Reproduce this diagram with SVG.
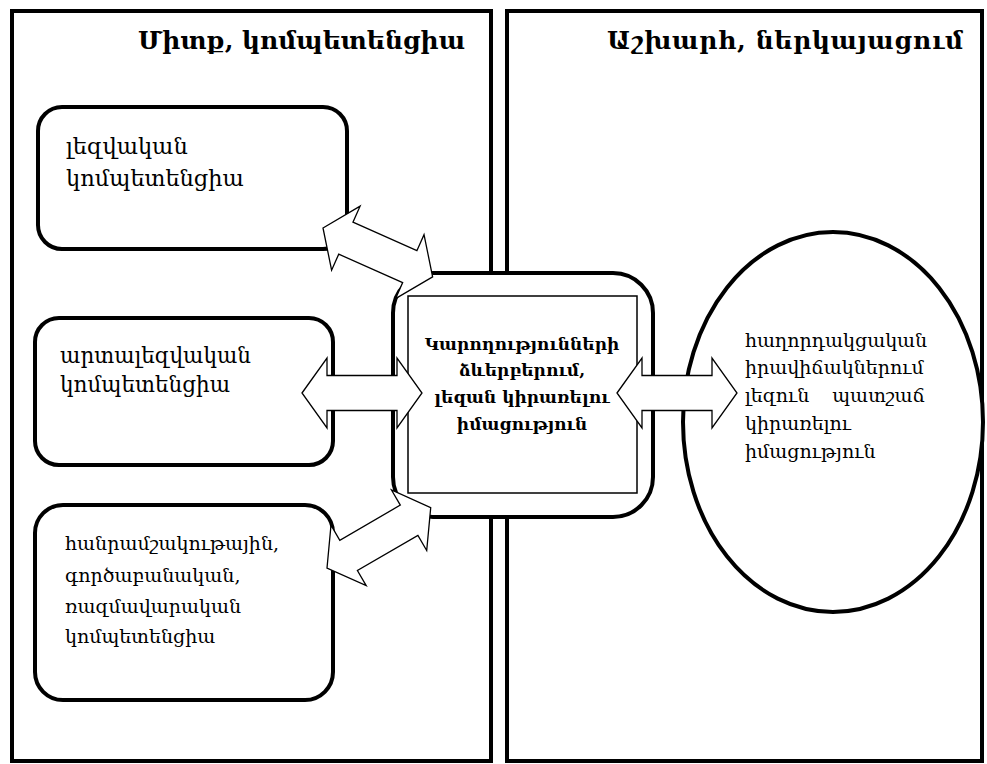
<svg xmlns="http://www.w3.org/2000/svg" xmlns:xlink="http://www.w3.org/1999/xlink" width="987" height="764" viewBox="0 0 987 764">
<style>
.panel{fill:#fff;stroke:#000;stroke-width:4}
.box{fill:#fff;stroke:#000;stroke-width:4}
.inner{fill:#fff;stroke:#000;stroke-width:1.5}
.arrow{fill:#fff;stroke:#000;stroke-width:1.3;stroke-linejoin:miter}
.title{font-family:"DejaVu Serif","DejaVu Sans",serif;font-size:25px;font-weight:bold;fill:#000}
.t{font-family:"DejaVu Serif","DejaVu Sans",serif;font-size:19px;fill:#000}
.t1{font-size:22.5px}
.t2{font-size:21.5px}
.tb{font-family:"DejaVu Serif","DejaVu Sans",serif;font-size:17px;font-weight:bold;fill:#000;text-anchor:middle}
</style>
<defs>
<path id="dblarrow" d="M0,0 L25,-35 L25,-17.5 L95,-17.5 L95,-35 L120,0 L95,35 L95,17.5 L25,17.5 L25,35 Z"/>
</defs>
<rect width="987" height="764" fill="#fff"/>
<g id="panel-left">
<rect class="panel" x="12" y="11" width="479" height="750"/>
<text class="title" x="138" y="49" textLength="327">Միտք, կոմպետենցիա</text>
</g>
<g id="panel-right">
<rect class="panel" x="507" y="11" width="475" height="750"/>
<text class="title" x="607" y="49" textLength="356">Աշխարհ, ներկայացում</text>
</g>
<g id="box-linguistic">
<rect class="box" x="38" y="107" width="309" height="142" rx="24"/>
<text class="t t1" x="66" y="154">լեզվական</text>
<text class="t t1" x="66" y="186">կոմպետենցիա</text>
</g>
<g id="box-extralinguistic">
<rect class="box" x="35" y="318" width="298" height="147" rx="24"/>
<text class="t t2" x="60" y="363">արտալեզվական</text>
<text class="t t2" x="60" y="392">կոմպետենցիա</text>
</g>
<g id="box-sociocultural">
<rect class="box" x="35" y="505" width="298" height="195" rx="28"/>
<text class="t" x="65" y="550">հանրամշակութային,</text>
<text class="t" x="65" y="582">գործաբանական,</text>
<text class="t" x="65" y="613">ռազմավարական</text>
<text class="t" x="65" y="643">կոմպետենցիա</text>
</g>
<g id="center">
<rect class="box" x="393" y="273" width="260" height="244" rx="40"/>
<rect class="inner" x="408" y="296" width="229" height="197"/>
<text class="tb" x="522" y="350">Կարողությունների</text>
<text class="tb" x="522" y="376">ձևերբերում,</text>
<text class="tb" x="522" y="403">լեզան կիրառելու</text>
<text class="tb" x="522" y="430">իմացություն</text>
</g>
<g id="ellipse-node">
<ellipse class="box" cx="833" cy="422" rx="150" ry="190"/>
<text class="t" x="745" y="347">հաղորդակցական</text>
<text class="t" x="745" y="374">իրավիճակներում</text>
<text class="t" x="745" y="402">լեզուն</text>
<text class="t" x="925" y="402" text-anchor="end">պատշաճ</text>
<text class="t" x="745" y="430">կիրառելու</text>
<text class="t" x="745" y="458">իմացություն</text>
</g>
<g id="connectors">
<use class="arrow" xlink:href="#dblarrow" href="#dblarrow" transform="translate(323,228) rotate(24)"/>
<use class="arrow" xlink:href="#dblarrow" href="#dblarrow" transform="translate(302,393)"/>
<use class="arrow" xlink:href="#dblarrow" href="#dblarrow" transform="translate(327,568) rotate(-30.2)"/>
<use class="arrow" xlink:href="#dblarrow" href="#dblarrow" transform="translate(617,393)"/>
</g>
</svg>
